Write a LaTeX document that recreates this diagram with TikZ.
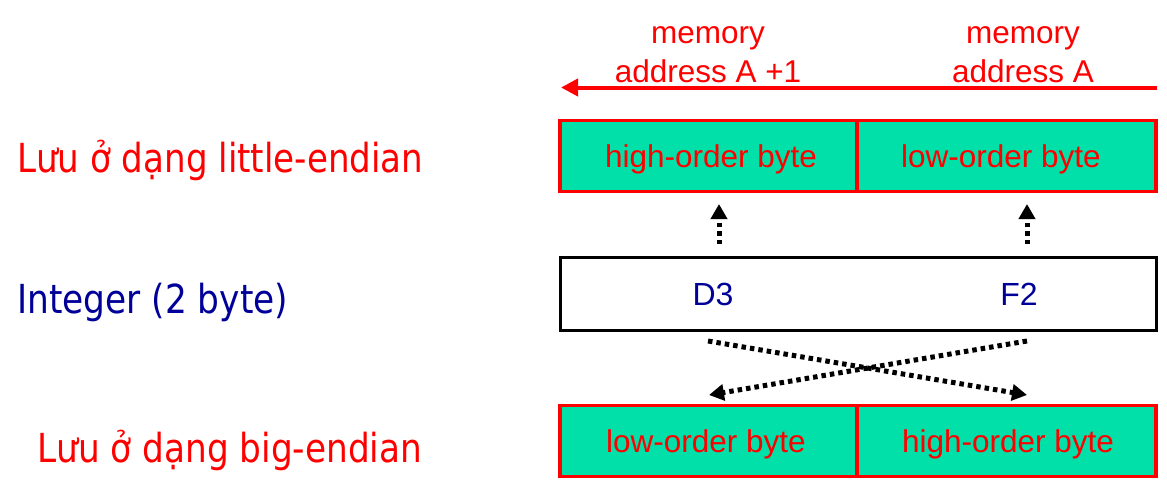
\documentclass[tikz,border=0pt]{standalone}
\usepackage{fontspec}
\usepackage{graphicx}
\setmainfont{Liberation Sans}
\newfontfamily\leftfont{DejaVu Sans}
\usetikzlibrary{arrows.meta}
\definecolor{cellfill}{HTML}{00E0A8}
\definecolor{navy}{HTML}{000099}
\definecolor{pred}{HTML}{FF0000}
\tikzset{
  cell/.style={draw=pred, fill=cellfill, line width=3.5pt, minimum height=71pt, inner sep=0pt},
  intbox/.style={draw=black, fill=white, line width=3pt, minimum width=596pt, minimum height=73pt, inner sep=0pt},
  celltext/.style={text=pred, font=\fontsize{31.5pt}{36pt}\selectfont, anchor=base, inner sep=0pt},
  valtext/.style={text=navy, font=\fontsize{32pt}{36pt}\selectfont, anchor=base, inner sep=0pt},
  addrtext/.style={text=pred, font=\fontsize{31.5pt}{39pt}\selectfont, align=center, anchor=base, inner sep=0pt},
  sidetext/.style={font=\leftfont\fontsize{40pt}{44pt}\selectfont, anchor=base west, inner sep=0pt},
  memarrow/.style={draw=pred, line width=4pt, -{Triangle[length=17pt,width=17pt]}},
  dotarrow/.style={draw=black, line width=5pt, dash pattern=on 4.5pt off 4pt, -{Triangle[length=15pt,width=16pt]}}
}
\begin{document}
\begin{tikzpicture}[x=1pt,y=-1pt]
\useasboundingbox (0,0) rectangle (1167,495);
% memory addresses
\node[addrtext] (mA1) at (708,44) {memory};
\node[addrtext] (mA1b) at (708,82) {address A +1};
\node[addrtext] (mA) at (1023,44) {memory};
\node[addrtext] (mAb) at (1023,82) {address A};
\coordinate (arrS) at (1157,87.5);
\coordinate (arrE) at (561,87.5);
\draw[memarrow] (arrS) -- (arrE);
% little-endian row
\node[cell, minimum width=297pt] (lh) at (708.5,156) {};
\node[cell, minimum width=299pt] (ll) at (1006.5,156) {};
\node[celltext] (lht) at (711,167) {high-order byte};
\node[celltext] (llt) at (1001,167) {low-order byte};
% integer
\node[intbox] (mid) at (858,293.5) {};
\node[valtext] (d3) at (713,305) {D3};
\node[valtext] (f2) at (1019,305) {F2};
% big-endian row
\node[cell, minimum width=297pt] (bl) at (708.5,441) {};
\node[cell, minimum width=299pt] (bh) at (1006.5,441) {};
\node[celltext] (blt) at (706,452) {low-order byte};
\node[celltext] (bht) at (1008,452) {high-order byte};
% side labels
\node[sidetext, text=pred] (lab1) at (17,172) {\resizebox{406pt}{\height}{Lưu ở dạng little-endian}};
\node[sidetext, text=navy] (lab2) at (17,313) {\resizebox{271pt}{\height}{Integer (2 byte)}};
\node[sidetext, text=pred] (lab3) at (37,462) {\resizebox{385pt}{\height}{Lưu ở dạng big-endian}};
% dotted arrows up
\coordinate (u1s) at (719,244);
\coordinate (u1e) at (719,204);
\coordinate (u2s) at (1027,244);
\coordinate (u2e) at (1027,204);
\draw[dotarrow] (u1s) -- (u1e);
\draw[dotarrow] (u2s) -- (u2e);
% crossing arrows
\coordinate (c1s) at (708,341);
\coordinate (c1e) at (1027,395);
\coordinate (c2s) at (1027,341);
\coordinate (c2e) at (709,395);
\draw[dotarrow] (c1s) -- (c1e);
\draw[dotarrow] (c2s) -- (c2e);
\end{tikzpicture}
\end{document}
